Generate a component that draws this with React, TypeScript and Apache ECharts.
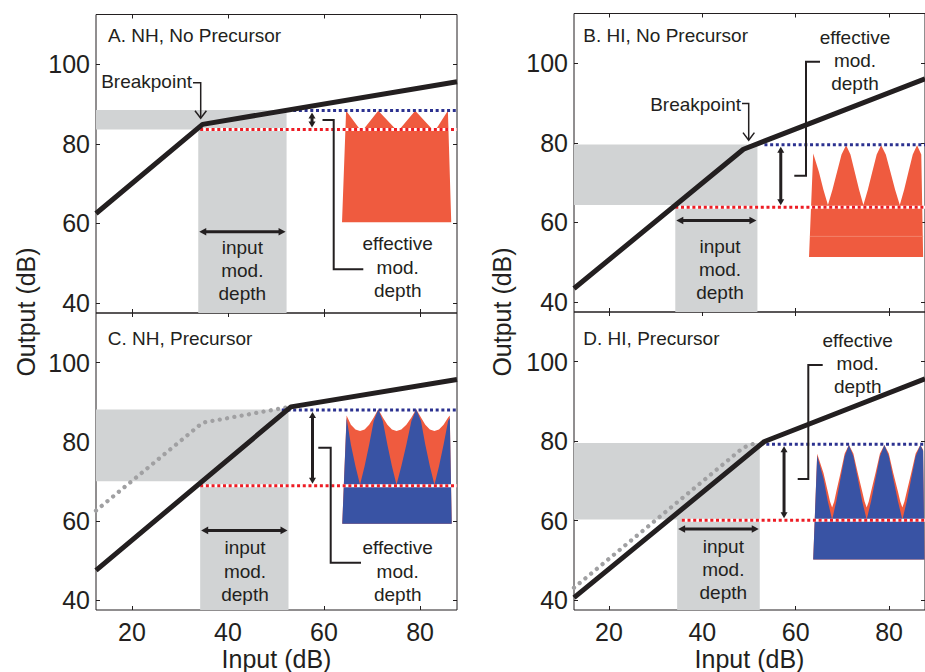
import React, { useEffect, useRef } from 'react';
import * as echarts from 'echarts';

// ---------- data ----------
const xTicks = [20, 40, 60, 80];
const yTicks = [40, 60, 80, 100];
const xRange = [12.5, 87.7];
const yRange = [37.5, 112.5];

const panelTitles = ['A. NH, No Precursor', 'B. HI, No Precursor', 'C. NH, Precursor', 'D. HI, Precursor'];

// input/output functions [input dB, output dB]
const ioA = [[12.5, 62.5], [34.7, 84.9], [87.7, 95.6]];
const ioB = [[12.5, 43.4], [48.8, 78.4], [87.7, 96.1]];
const ioC = [[12.5, 47.5], [53.1, 88.8], [87.7, 95.7]];
const ioD = [[12.5, 40.6], [53.3, 79.9], [87.7, 95.7]];
// no-precursor function repeated (dotted) in C and D
const refC = [[12.5, 62.6], [34.7, 84.8], [52.4, 88.7]];
const refD = [[12.5, 43.1], [48.8, 78.4], [51.6, 79.6]];

// shaded ranges [input lo, input hi, output lo, output hi]
const bandA = [33.8, 52.2, 83.6, 88.5];
const bandB = [34.2, 51.8, 64.4, 79.6];
const bandC = [34.2, 52.6, 70.0, 88.1];
const bandD = [34.6, 52.3, 60.3, 79.5];

// output levels [start input, output]  (trough = red, peak = blue)
const troughA = [34.2, 83.6];
const troughB = [34.2, 63.8];
const troughC = [34.2, 68.9];
const troughD = [35.6, 60.1];
const peakA = [51.2, 88.4];
const peakB = [53.3, 79.5];
const peakC = [51.2, 88.0];
const peakD = [53.7, 79.2];

// modulated output waveforms: upper envelope [x, y]; base [left x, right x, bottom y]
const waveA = [[64.6, 88.3], [67.5, 83.6], [68.2, 83.6], [71.3, 88.3], [75.0, 83.6], [75.7, 83.6], [79.0, 88.3], [82.6, 83.6], [83.3, 83.6], [85.8, 88.3]];
const waveABase = [63.75, 86.5, 60.3];

const waveB = [[63.75, 77.3], [64.98, 72.7], [65.94, 68.2], [66.9, 64.4],
  [67.87, 68.2], [68.85, 72.7], [69.82, 77.1], [70.8, 79.4],
  [71.73, 77.1], [72.65, 72.7], [73.58, 68.2], [74.5, 64.4],
  [75.45, 68.2], [76.4, 72.7], [77.35, 77.1], [78.3, 79.4],
  [79.3, 77.1], [80.3, 72.7], [81.3, 68.2], [82.3, 64.4],
  [83.23, 68.2], [84.15, 72.7], [85.08, 77.1], [86.0, 79.4], [86.9, 77.1]];
const waveBBase = [62.85, 87.3, 51.3];
const waveBSeam = 56.5;

const waveCOrange = [[64.7, 86.6], [65.6, 84.3], [66.55, 83.1], [67.5, 82.7],
  [68.45, 83.1], [69.4, 84.3], [70.35, 86.1], [71.3, 88.2],
  [72.25, 86.1], [73.2, 84.3], [74.15, 83.1], [75.1, 82.7],
  [76.1, 83.1], [77.15, 84.3], [78.2, 86.1], [79.2, 88.2],
  [80.2, 86.1], [81.1, 84.3], [82.05, 83.1], [83.0, 82.7],
  [83.95, 83.1], [84.9, 84.3], [85.85, 86.1], [86.2, 86.6]];
const waveCBlue = [[64.7, 86.0], [65.6, 79.2], [66.55, 73.8], [67.5, 69.1],
  [68.45, 73.8], [69.4, 79.2], [70.35, 85.2], [71.3, 88.2],
  [72.25, 85.2], [73.2, 79.2], [74.15, 73.8], [75.1, 69.1],
  [76.1, 73.8], [77.15, 79.2], [78.2, 85.2], [79.2, 88.2],
  [80.2, 85.2], [81.1, 79.2], [82.05, 73.8], [83.0, 69.1],
  [83.95, 73.8], [84.9, 79.2], [85.85, 85.2], [86.2, 86.0]];
const waveCBase = [63.8, 86.6, 59.3];

const waveDOrange = [[64.6, 76.8], [65.95, 72.0], [66.87, 67.3], [67.35, 64.8], [67.8, 63.3], [68.25, 64.8], [68.7, 67.3], [69.6, 72.0], [70.5, 76.9], [71.4, 79.05],
  [72.35, 76.9], [73.3, 72.0], [74.25, 67.3], [74.75, 64.8], [75.2, 63.3], [75.65, 64.8], [76.15, 67.3], [77.1, 72.0], [78.05, 76.9], [79.0, 79.05],
  [79.95, 76.9], [80.9, 72.0], [81.9, 67.3], [82.4, 64.8], [82.85, 63.3], [83.3, 64.8], [83.8, 67.3], [84.75, 72.0], [85.7, 76.9], [86.7, 79.05], [87.3, 77.8]];
const waveDBlue = [[64.6, 76.3], [65.95, 70.6], [66.87, 64.9], [67.8, 60.2],
  [68.7, 64.9], [69.6, 70.6], [70.5, 76.2], [71.4, 79.05],
  [72.35, 76.2], [73.3, 70.6], [74.25, 64.9], [75.2, 60.2],
  [76.15, 64.9], [77.1, 70.6], [78.05, 76.2], [79.0, 79.05],
  [79.95, 76.2], [80.9, 70.6], [81.9, 64.9], [82.85, 60.2],
  [83.8, 64.9], [84.75, 70.6], [85.7, 76.2], [86.7, 79.05], [87.3, 77.5]];
const waveDBase = [63.75, 87.6, 50.2];

// ---------- styles / layout ----------
const FONT = '"Liberation Sans", Arial, Helvetica, sans-serif';
const INK = '#231f20';
const GRAY = '#d1d3d4';
const ORANGE = '#ef5b3f';
const BLUE = '#3953a4';
const RED = '#ed1c24';
const NAVY = '#2b3190';
const DOTGRAY = '#a0a0a2';

const grids = [
  { left: 96, top: 14.5, width: 361, height: 298.5 },
  { left: 574, top: 13.5, width: 361, height: 298.5 },
  { left: 96, top: 313, width: 361, height: 298 },
  { left: 574, top: 312, width: 361, height: 298 },
];
// annotation layout: x of the vertical (effective) arrow, y of the horizontal (input) arrow, in data units
const effArrowX = [57.5, 56.8, 57.6, 57.5];
const inArrowY = [57.9, 60.5, 57.6, 57.9];

const panels = [
  { io: ioA, ref: null, band: bandA, trough: troughA, peak: peakA, waves: [{ pts: waveA, base: waveABase, color: ORANGE }] },
  { io: ioB, ref: null, band: bandB, trough: troughB, peak: peakB, waves: [{ pts: waveB, base: waveBBase, color: ORANGE, seam: waveBSeam }] },
  { io: ioC, ref: refC, band: bandC, trough: troughC, peak: peakC, waves: [{ pts: waveCOrange, base: waveCBase, color: ORANGE }, { pts: waveCBlue, base: waveCBase, color: BLUE }] },
  { io: ioD, ref: refD, band: bandD, trough: troughD, peak: peakD, waves: [{ pts: waveDOrange, base: waveDBase, color: ORANGE }, { pts: waveDBlue, base: waveDBase, color: BLUE }] },
];

function arrowEls(p1: number[], p2: number[], w: number, headLen: number, headHalf: number) {
  const dx = p2[0] - p1[0], dy = p2[1] - p1[1];
  const L = Math.hypot(dx, dy) || 1;
  const ux = dx / L, uy = dy / L, nx = -uy, ny = ux;
  const a = [p1[0] + ux * headLen, p1[1] + uy * headLen];
  const b = [p2[0] - ux * headLen, p2[1] - uy * headLen];
  return [
    { type: 'line', shape: { x1: a[0] - ux, y1: a[1] - uy, x2: b[0] + ux, y2: b[1] + uy }, style: { stroke: INK, lineWidth: w } },
    { type: 'polygon', shape: { points: [p1, [a[0] + nx * headHalf, a[1] + ny * headHalf], [a[0] - nx * headHalf, a[1] - ny * headHalf]] }, style: { fill: INK } },
    { type: 'polygon', shape: { points: [p2, [b[0] + nx * headHalf, b[1] + ny * headHalf], [b[0] - nx * headHalf, b[1] - ny * headHalf]] }, style: { fill: INK } },
  ];
}

function text(t: string, x: number, y: number, size: number, align: string, extra: any = {}) {
  return {
    type: 'text', x, y, z: 20, silent: true, ...extra,
    style: { text: t, font: `${size}px ${FONT}`, fill: INK, textAlign: align, align, textVerticalAlign: 'middle', verticalAlign: 'middle', lineHeight: 23.3 },
  };
}
function poly(points: number[][], w: number) {
  return { type: 'polyline', z: 15, silent: true, shape: { points }, style: { stroke: INK, lineWidth: w, fill: null } };
}

function buildOption() {
  const xAxis: any[] = [], yAxis: any[] = [], series: any[] = [];
  panels.forEach((p, i) => {
    const bottomRow = i >= 2;
    const tick = (vals: number[]) => ({ show: true, inside: true, length: 4, customValues: vals, lineStyle: { color: INK, width: 1 } });
    xAxis.push({
      type: 'value', gridIndex: i, min: xRange[0], max: xRange[1], position: 'bottom',
      axisLine: { show: false }, axisTick: tick(xTicks), splitLine: { show: false },
      axisLabel: { show: bottomRow, customValues: xTicks, fontSize: 25, fontFamily: FONT, color: INK, margin: 9 },
      name: bottomRow ? 'Input (dB)' : '', nameLocation: 'middle', nameGap: 36,
      nameTextStyle: { fontSize: 25, fontFamily: FONT, color: INK },
    });
    xAxis.push({
      type: 'value', gridIndex: i, min: xRange[0], max: xRange[1], position: 'top',
      axisLine: { show: false }, axisTick: tick(xTicks), axisLabel: { show: false }, splitLine: { show: false },
    });
    yAxis.push({
      type: 'value', gridIndex: i, min: yRange[0], max: yRange[1], position: 'left',
      axisLine: { show: false }, axisTick: tick(yTicks), splitLine: { show: false },
      axisLabel: { show: true, customValues: yTicks, fontSize: 25, fontFamily: FONT, color: INK, margin: 6 },
    });
    yAxis.push({
      type: 'value', gridIndex: i, min: yRange[0], max: yRange[1], position: 'right',
      axisLine: { show: false }, axisTick: tick(yTicks), axisLabel: { show: false }, splitLine: { show: false },
    });
    const xi = i * 2, yi = i * 2;
    // background: shaded ranges + waveforms
    series.push({
      type: 'custom', coordinateSystem: 'cartesian2d', xAxisIndex: xi, yAxisIndex: yi, silent: true, clip: false, z: 1,
      data: [[50, 50]],
      renderItem: (_params: any, api: any) => {
        const c = (x: number, y: number) => api.coord([x, y]);
        const [x0, x1, y0, y1] = p.band;
        const children: any[] = [];
        children.push({ type: 'polygon', shape: { points: [c(xRange[0], y0), c(x0, y0), c(x0, yRange[0]), c(x1, yRange[0]), c(x1, y1), c(xRange[0], y1)] }, style: { fill: GRAY } });
        p.waves.forEach((w: any) => {
          const [bl, br, by] = w.base;
          const pts = [c(bl, by), ...w.pts.map((q: number[]) => c(q[0], q[1])), c(br, by)];
          children.push({ type: 'polygon', shape: { points: pts }, style: { fill: w.color } });
          if (w.seam != null) {
            const a = c(bl + 0.2, w.seam), b = c(br, w.seam);
            children.push({ type: 'line', shape: { x1: a[0], y1: a[1], x2: b[0], y2: b[1] }, style: { stroke: '#f3826a', lineWidth: 1 } });
          }
        });
        return { type: 'group', children };
      },
    });
    // dotted no-precursor function
    if (p.ref) {
      series.push({ type: 'line', xAxisIndex: xi, yAxisIndex: yi, data: p.ref, symbol: 'none', silent: true, z: 2,
        lineStyle: { color: DOTGRAY, width: 4.3, type: [0.01, 7.4], cap: 'round' } });
    }
    // trough level (red dotted on white) and peak level (navy dotted)
    const tr = [[p.trough[0], p.trough[1]], [xRange[1], p.trough[1]]];
    const pk = [[p.peak[0], p.peak[1]], [xRange[1], p.peak[1]]];
    series.push({ type: 'line', xAxisIndex: xi, yAxisIndex: yi, data: tr, symbol: 'none', silent: true, z: 2,
      lineStyle: { color: '#ffffff', width: 3, type: 'solid' } });
    series.push({ type: 'line', xAxisIndex: xi, yAxisIndex: yi, data: tr, symbol: 'none', silent: true, z: 2,
      lineStyle: { color: RED, width: 3, type: [3, 2.7], cap: 'butt' } });
    series.push({ type: 'line', xAxisIndex: xi, yAxisIndex: yi, data: pk, symbol: 'none', silent: true, z: 2,
      lineStyle: { color: NAVY, width: 3, type: [3, 2.7], cap: 'butt' } });
    // input/output function
    series.push({ type: 'line', xAxisIndex: xi, yAxisIndex: yi, data: p.io, symbol: 'none', silent: true, z: 3,
      lineStyle: { color: INK, width: 5, join: 'round' } });
    // arrows
    series.push({
      type: 'custom', coordinateSystem: 'cartesian2d', xAxisIndex: xi, yAxisIndex: yi, silent: true, clip: false, z: 4,
      data: [[50, 50]],
      renderItem: (_params: any, api: any) => {
        const c = (x: number, y: number) => api.coord([x, y]);
        const a1 = c(p.band[0], inArrowY[i]), a2 = c(p.band[1], inArrowY[i]);
        const e1 = c(effArrowX[i], p.peak[1]), e2 = c(effArrowX[i], p.trough[1]);
        e1[1] += 2; e2[1] -= 2;
        a1[0] += 1; a2[0] -= 1;
        return { type: 'group', children: [...arrowEls(a1, a2, 3, 7, 3.8), ...arrowEls(e1, e2, 3, 6, 3.5)] };
      },
    });
  });

  const graphic: any[] = [
    text(panelTitles[0], 108, 35.5, 19, 'left'),
    text(panelTitles[1], 583.3, 35.5, 19, 'left'),
    text(panelTitles[2], 107.7, 338.3, 19, 'left'),
    text(panelTitles[3], 583.3, 338, 19, 'left'),
    text('Output (dB)', 26, 312, 25, 'center', { rotation: Math.PI / 2 }),
    text('Output (dB)', 502, 312, 25, 'center', { rotation: Math.PI / 2 }),
    // Breakpoint labels
    text('Breakpoint', 192, 81.7, 19, 'right'),
    poly([[193, 82.7], [200.7, 82.7], [200.7, 118]], 1.5),
    poly([[195, 110.8], [200.7, 118.3], [206.4, 110.8]], 1.5),
    text('Breakpoint', 741, 104, 19, 'right'),
    poly([[742, 103.5], [748.7, 103.5], [748.7, 140]], 1.5),
    poly([[743, 132.6], [748.7, 140.2], [754.4, 132.6]], 1.5),
    // input mod. depth
    text('input\nmod.\ndepth', 242.3, 270.7, 19, 'center'),
    text('input\nmod.\ndepth', 720, 269.3, 19, 'center'),
    text('input\nmod.\ndepth', 245, 571, 19, 'center'),
    text('input\nmod.\ndepth', 723.3, 569.3, 19, 'center'),
    // effective mod. depth
    text('effective\nmod.\ndepth', 397.7, 267, 19, 'center'),
    text('effective\nmod.\ndepth', 855, 60.7, 19, 'center'),
    text('effective\nmod.\ndepth', 397.7, 571, 19, 'center'),
    text('effective\nmod.\ndepth', 857.7, 363.3, 19, 'center'),
    poly([[322.5, 120], [333.7, 120], [333.7, 269.3], [363.3, 269.3]], 2),
    poly([[794.3, 175.7], [806, 175.7], [806, 61.7], [820, 61.7]], 2),
    poly([[318.3, 447.7], [330.7, 447.7], [330.7, 562.7], [361, 562.7]], 2),
    poly([[797.7, 479], [808.3, 479], [808.3, 365], [822.7, 365]], 2),
  ];

  return {
    animation: false,
    backgroundColor: '#ffffff',
    textStyle: { fontFamily: FONT },
    grid: grids.map((g) => ({ ...g, show: true, borderColor: INK, borderWidth: 1, backgroundColor: 'transparent', containLabel: false })),
    xAxis, yAxis, series, graphic,
  };
}

export default function App() {
  const ref = useRef<HTMLDivElement>(null);
  useEffect(() => {
    if (!ref.current) return;
    const chart = echarts.init(ref.current, undefined, { renderer: 'svg' });
    chart.setOption(buildOption() as any);
    return () => chart.dispose();
  }, []);
  return <div ref={ref} style={{ position: 'fixed', left: 0, top: 0, width: 925, height: 672, background: '#fff' }} />;
}
